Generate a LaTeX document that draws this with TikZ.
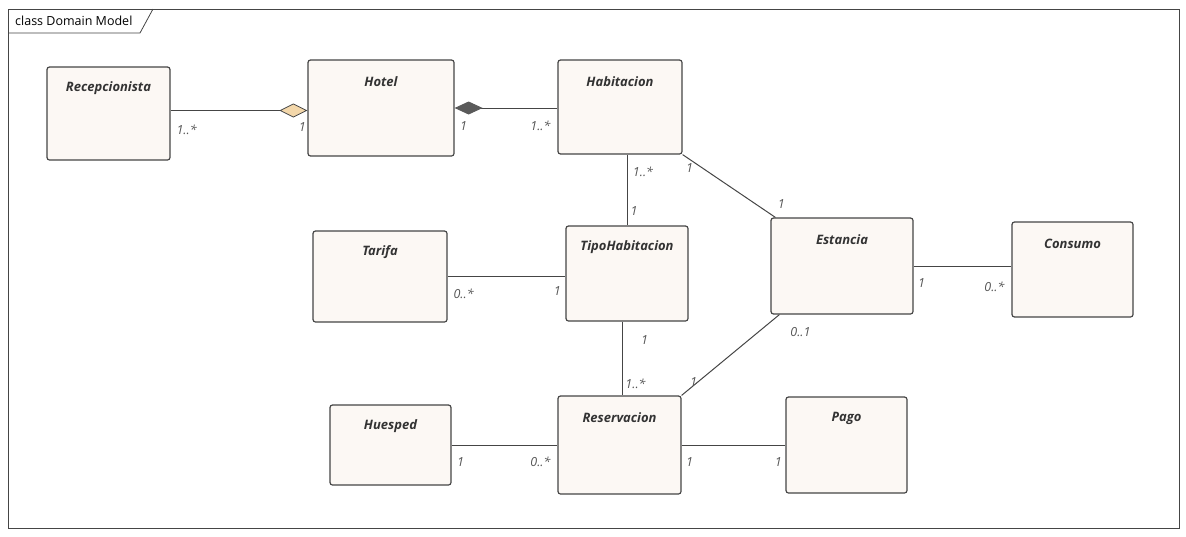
\documentclass[tikz,border=0pt]{standalone}
\usepackage{fontspec}
\setmainfont{Open Sans}
\usetikzlibrary{arrows.meta}
\definecolor{boxfill}{HTML}{FCF8F4}
\definecolor{boxdraw}{HTML}{454545}
\definecolor{tanfill}{HTML}{F3D7AA}
\definecolor{darkdia}{HTML}{5A5A5A}
\definecolor{multc}{HTML}{555555}
\definecolor{titlec}{HTML}{333333}
\tikzset{
  cls/.style={draw=boxdraw, fill=boxfill, line width=1.2pt, rounded corners=2.5pt, inner sep=0pt},
  ttl/.style={font=\fontsize{13}{15}\selectfont\bfseries\itshape, text=titlec},
  assoc/.style={draw=boxdraw, line width=1pt},
  mult/.style={font=\fontsize{12.5}{14}\selectfont\itshape, text=multc, inner sep=0pt, anchor=center},
  agg/.tip={Diamond[length=28pt,width=14pt,fill=tanfill,line width=0.8pt]},
  comp/.tip={Diamond[length=28pt,width=13pt,fill=darkdia,color=darkdia]},
}
\newcommand{\mkcls}[6]{%
  \node[cls, minimum width=#4pt, minimum height=#5pt,
        label={[ttl, anchor=center, yshift=-22pt]north:#6}] (#1) at (#2,#3) {};}
\begin{document}
\begin{tikzpicture}[x=1pt,y=-1pt]
\useasboundingbox (0,0) rectangle (1186,536);
% frame
\draw[draw=boxdraw, line width=0.8pt] (8,9) rectangle (1179,528);
\draw[draw=boxdraw, line width=0.8pt] (8,33) -- (140,33) -- (153,9);
\node[anchor=west, inner sep=0pt, font=\fontsize{12.5}{14}\selectfont, text=black] (hdr) at (15,21) {class Domain Model};
% classes
\mkcls{recep}{108.5}{113.5}{123}{93}{Recepcionista}
\mkcls{hotel}{381}{108}{146}{96}{Hotel}
\mkcls{hab}{620}{107}{124}{94}{Habitacion}
\mkcls{tarifa}{380}{276.5}{134}{91}{Tarifa}
\mkcls{tipo}{627}{273.5}{122}{95}{TipoHabitacion}
\mkcls{estancia}{842}{266}{142}{96}{Estancia}
\mkcls{consumo}{1072.5}{269.5}{121}{95}{Consumo}
\mkcls{huesped}{390.5}{445}{121}{80}{Huesped}
\mkcls{reserv}{619.5}{445}{123}{98}{Reservacion}
\mkcls{pago}{846.5}{445}{121}{96}{Pago}
% connectors
\draw[assoc, -agg] ([yshift=3pt]recep.east) -- ([yshift=3pt]recep.east -| hotel.west)
  node[mult, at start, xshift=16pt, yshift=-19pt] {1..*}
  node[mult, at end, xshift=-5pt, yshift=-17pt] {1};
\draw[assoc, comp-] (hotel.east) -- (hotel.east -| hab.west)
  node[mult, at start, xshift=9pt, yshift=-18pt] {1}
  node[mult, at end, xshift=-17pt, yshift=-18pt] {1..*};
\draw[assoc] (tipo.north |- hab.south) -- (tipo.north)
  node[mult, at start, xshift=16pt, yshift=-17pt] {1..*}
  node[mult, at end, xshift=7pt, yshift=14pt] {1};
\draw[assoc] (hab.south east) -- ([xshift=5pt]estancia.north west)
  node[mult, at start, xshift=7pt, yshift=-13pt] {1}
  node[mult, at end, xshift=6pt, yshift=13pt] {1};
\draw[assoc] (tarifa.east) -- (tarifa.east -| tipo.west)
  node[mult, at start, xshift=16pt, yshift=-17pt] {0..*}
  node[mult, at end, xshift=-8pt, yshift=-15pt] {1};
\draw[assoc] ([xshift=3pt]reserv.north |- tipo.south) -- ([xshift=3pt]reserv.north)
  node[mult, at start, xshift=22pt, yshift=-18pt] {1}
  node[mult, at end, xshift=13pt, yshift=12pt] {1..*};
\draw[assoc] ([xshift=9pt]estancia.south west) -- (reserv.north east)
  node[mult, at start, xshift=21pt, yshift=-17pt] {0..1}
  node[mult, at end, xshift=12pt, yshift=13pt] {1};
\draw[assoc] (estancia.east) -- (estancia.east -| consumo.west)
  node[mult, at start, xshift=8pt, yshift=-17pt] {1}
  node[mult, at end, xshift=-17pt, yshift=-21pt] {0..*};
\draw[assoc] (huesped.east) -- (huesped.east -| reserv.west)
  node[mult, at start, xshift=9pt, yshift=-17pt] {1}
  node[mult, at end, xshift=-17pt, yshift=-17pt] {0..*};
\draw[assoc] (reserv.east) -- (reserv.east -| pago.west)
  node[mult, at start, xshift=8pt, yshift=-17pt] {1}
  node[mult, at end, xshift=-7pt, yshift=-17pt] {1};
\end{tikzpicture}
\end{document}
